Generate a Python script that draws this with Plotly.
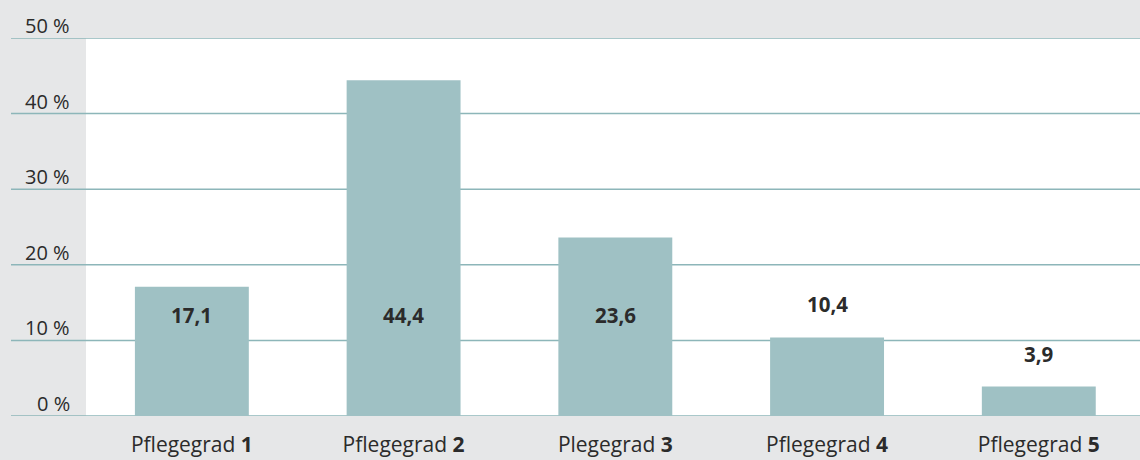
import plotly.graph_objects as go

categories = ["Pflegegrad <b>1</b>", "Pflegegrad <b>2</b>", "Plegegrad <b>3</b>", "Pflegegrad <b>4</b>", "Pflegegrad <b>5</b>"]
values = [17.1, 44.4, 23.6, 10.4, 3.9]
value_labels = ["17,1", "44,4", "23,6", "10,4", "3,9"]
tick_values = [0, 10, 20, 30, 40, 50]
tick_labels = ["0 %", "10 %", "20 %", "30 %", "40 %", "50 %"]

BAR = "#9fc1c4"
GRID = "#8db6b9"
BG = "#e6e7e8"
TXT = "#2b2b2b"
FONT = "Open Sans"

fig = go.Figure()
fig.add_trace(go.Bar(
    x=categories, y=values, marker=dict(color=BAR, line=dict(width=0)),
    width=0.538, hoverinfo="skip",
))

W, H = 1140, 460
ml, mr, mt, mb = 86, 0, 38, 44
pw = W - ml - mr

shapes = []
for t in tick_values:
    shapes.append(dict(type="line", xref="paper", yref="y",
                       x0=-(ml - 11) / pw, x1=1, y0=t, y1=t,
                       line=dict(color=GRID, width=1.5), layer="below"))

annotations = []
for t, lab in zip(tick_values, tick_labels):
    annotations.append(dict(xref="paper", yref="y", x=0, y=t, text=lab,
                            showarrow=False, xanchor="right", yanchor="bottom",
                            xshift=-14, yshift=-3,
                            font=dict(family=FONT, size=20, color=TXT)))

inside_level = 13.4
for c, v, lab in zip(categories, values, value_labels):
    if v > inside_level + 2:
        annotations.append(dict(x=c, y=inside_level, text="<b>" + lab + "</b>",
                                showarrow=False, yanchor="middle",
                                font=dict(family=FONT, size=20.5, color=TXT)))
    else:
        annotations.append(dict(x=c, y=v, text="<b>" + lab + "</b>",
                                showarrow=False, yanchor="middle", yshift=33,
                                font=dict(family=FONT, size=20.5, color=TXT)))

fig.update_layout(
    width=W, height=H,
    margin=dict(l=ml, r=mr, t=mt, b=mb, autoexpand=False),
    paper_bgcolor=BG, plot_bgcolor="white",
    showlegend=False,
    bargap=0.46,
    shapes=shapes, annotations=annotations,
    xaxis=dict(showgrid=False, zeroline=False, showline=False, ticks="",
               range=[-0.5, 4.478], automargin=False,
               tickfont=dict(family=FONT, size=21, color=TXT),
               ticklabelstandoff=14, fixedrange=True),
    yaxis=dict(range=[0, 50], showgrid=False, zeroline=False, showline=False,
               showticklabels=False, fixedrange=True, automargin=False),
)

fig.write_html("out.html", config={"displayModeBar": False},
               post_script="document.body.style.margin='0';document.body.style.padding='0';document.body.style.overflow='hidden';")
